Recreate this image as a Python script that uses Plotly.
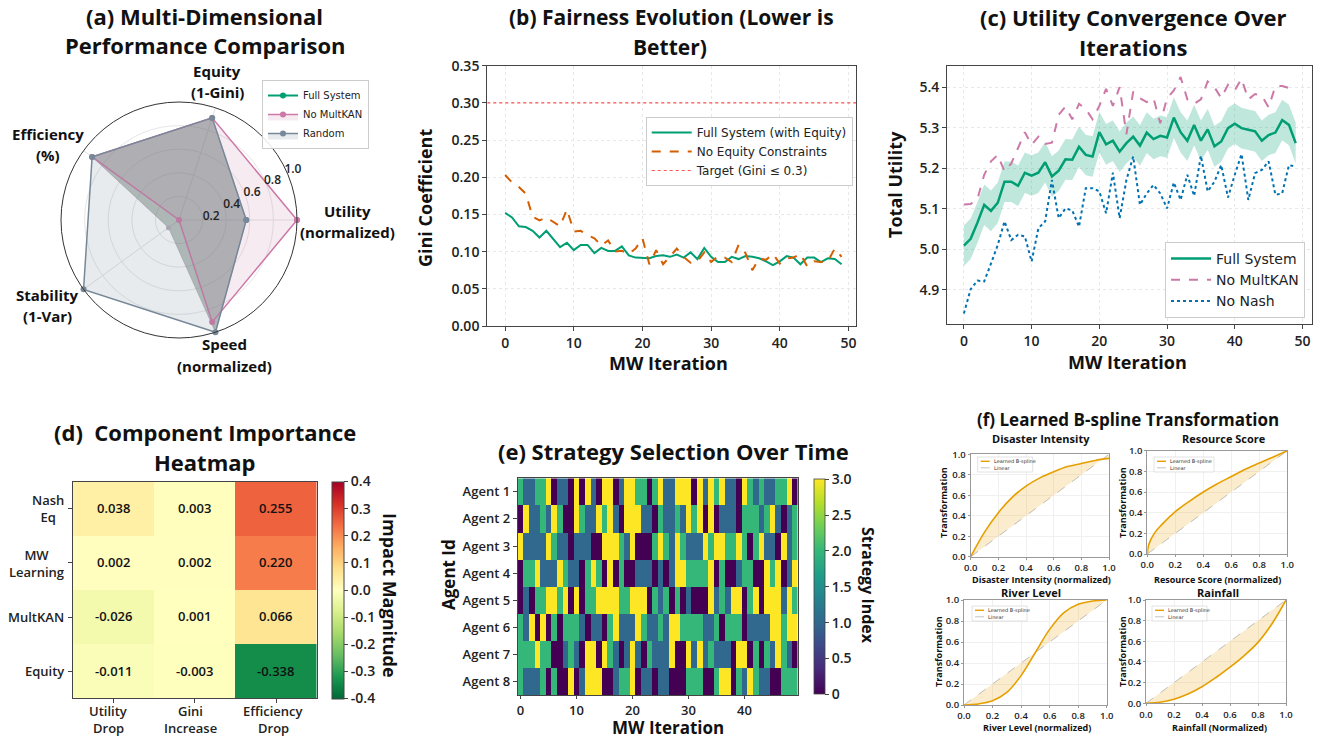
import plotly.graph_objects as go

W, H = 1324, 738
def px_x(v): return v / W
def px_y(v): return 1 - v / H

TF = "Open Sans"
LF = "DejaVu Sans"

# ---------------- data ----------------
# (a) radar
radar_labels = ["Utility (normalized)", "Equity (1-Gini)", "Efficiency (%)", "Stability (1-Var)", "Speed (normalized)"]
radar_full_system = [0.57, 0.91, 0.91, 0.11, 1.00]
radar_no_multkan = [1.00, 0.91, 0.91, 0.00, 0.91]
radar_random = [0.57, 0.91, 0.91, 1.00, 1.00]
radar_ticks = [0.2, 0.4, 0.6, 0.8, 1.0]

# (b) fairness
mw_iter = list(range(50))
gini_full = [0.152, 0.146, 0.134, 0.133, 0.128, 0.119, 0.128, 0.117, 0.106, 0.112,
             0.102, 0.109, 0.109, 0.098, 0.105, 0.101, 0.101, 0.107, 0.095, 0.092,
             0.091, 0.091, 0.094, 0.095, 0.093, 0.096, 0.092, 0.099, 0.090, 0.105,
             0.093, 0.086, 0.086, 0.093, 0.090, 0.094, 0.093, 0.091, 0.087, 0.082,
             0.087, 0.094, 0.092, 0.083, 0.092, 0.092, 0.086, 0.091, 0.090, 0.083]
gini_no_equity = [0.203, 0.193, 0.187, 0.178, 0.147, 0.142, 0.146, 0.140, 0.134, 0.157,
                  0.127, 0.128, 0.122, 0.118, 0.108, 0.115, 0.100, 0.101, 0.097, 0.104,
                  0.118, 0.083, 0.102, 0.083, 0.093, 0.104, 0.093, 0.085, 0.087, 0.099,
                  0.086, 0.094, 0.092, 0.086, 0.109, 0.098, 0.075, 0.091, 0.089, 0.097,
                  0.084, 0.091, 0.092, 0.097, 0.080, 0.087, 0.086, 0.087, 0.104, 0.093]
gini_target = 0.3
gini_xrange = [-2.6, 51.1]

# (c) utility
util_full = [5.009, 5.026, 5.066, 5.110, 5.095, 5.115, 5.167, 5.167, 5.157, 5.189,
             5.182, 5.189, 5.215, 5.180, 5.194, 5.222, 5.221, 5.253, 5.233, 5.229,
             5.289, 5.259, 5.268, 5.241, 5.262, 5.278, 5.256, 5.288, 5.272, 5.280,
             5.276, 5.325, 5.289, 5.268, 5.307, 5.268, 5.296, 5.254, 5.266, 5.299,
             5.310, 5.299, 5.295, 5.291, 5.268, 5.282, 5.288, 5.319, 5.307, 5.262]
util_band = 0.05
util_no_multkan = [5.111, 5.112, 5.124, 5.184, 5.217, 5.233, 5.192, 5.212, 5.250, 5.289,
                   5.258, 5.278, 5.260, 5.263, 5.332, 5.352, 5.321, 5.359, 5.346, 5.321,
                   5.354, 5.396, 5.354, 5.400, 5.284, 5.389, 5.373, 5.363, 5.373, 5.311,
                   5.373, 5.392, 5.425, 5.370, 5.359, 5.370, 5.414, 5.400, 5.373, 5.406,
                   5.392, 5.421, 5.370, 5.383, 5.379, 5.350, 5.403, 5.403, 5.398, 5.389]
util_no_nash = [4.842, 4.902, 4.923, 4.921, 4.965, 5.011, 5.069, 5.023, 5.036, 5.032,
                4.970, 5.052, 5.069, 5.171, 5.077, 5.101, 5.096, 5.056, 5.151, 5.151,
                5.143, 5.089, 5.189, 5.077, 5.171, 5.229, 5.110, 5.138, 5.159, 5.138,
                5.101, 5.165, 5.122, 5.184, 5.132, 5.231, 5.143, 5.167, 5.208, 5.128,
                5.184, 5.235, 5.122, 5.188, 5.196, 5.217, 5.135, 5.138, 5.208, 5.204]

# (d) component importance
components = ["Nash<br>Eq", "MW<br>Learning", "MultKAN", "Equity"]
impact_metrics = ["Utility<br>Drop", "Gini<br>Increase", "Efficiency<br>Drop"]
impact = [[0.038, 0.003, 0.255],
          [0.002, 0.002, 0.220],
          [-0.026, 0.001, 0.066],
          [-0.011, -0.003, -0.338]]
impact_ticks = [0.4, 0.3, 0.2, 0.1, 0.0, -0.1, -0.2, -0.3, -0.4]
impact_ticktext = ["0.4", "0.3", "0.2", "0.1", "0.0", "-0.1", "-0.2", "-0.3", "-0.4"]

# (e) strategy selection
agents = ["Agent 1", "Agent 2", "Agent 3", "Agent 4", "Agent 5", "Agent 6", "Agent 7", "Agent 8"]
strategy_agent1 = [2,1,1,2,2,3,0,1,1,0, 3,0,3,1,0,3,3,0,1,3, 3,2,2,0,2,3,1,1,3,3, 3,0,3,1,3,2,3,1,1,0, 3,2,1,2,1,1,2,2,3,0]
strategy_agent2 = [0,3,1,1,2,1,3,2,0,0, 3,2,1,1,3,2,3,1,0,3, 3,3,1,1,0,2,1,1,2,1, 3,2,3,0,3,0,1,1,1,0, 2,2,2,1,2,3,1,0,1,2]
strategy_agent3 = [3,1,1,1,1,3,2,1,1,0, 1,1,1,0,0,3,3,3,2,1, 3,0,0,0,2,3,2,1,3,2, 1,1,1,3,2,3,3,2,2,3, 2,0,2,3,1,1,0,3,1,2]
strategy_agent4 = [0,2,2,3,1,1,1,3,2,1, 1,0,2,3,2,0,3,0,2,0, 0,1,1,1,0,1,0,1,3,3, 2,2,2,2,3,0,2,0,0,1, 2,2,0,0,3,2,3,0,1,3]
strategy_agent5 = [0,1,0,2,2,3,3,2,3,0, 3,0,2,2,3,3,3,3,2,2, 3,3,3,0,2,1,2,0,2,0, 1,0,0,0,3,1,2,1,3,3, 0,2,3,0,3,3,3,1,3,2]
strategy_agent6 = [2,1,3,0,3,0,2,0,2,2, 2,1,0,1,1,0,2,3,1,1, 1,3,2,1,1,2,1,3,3,2, 2,2,2,1,1,2,0,2,2,2, 0,1,1,1,1,3,3,2,3,3]
strategy_agent7 = [2,2,2,3,2,2,0,0,1,2, 1,0,3,3,0,3,2,1,0,1, 3,1,0,2,1,1,1,3,0,0, 3,1,3,1,2,1,1,1,0,3, 3,0,2,0,2,1,3,2,1,0]
strategy_agent8 = [2,1,1,1,2,0,2,0,0,3, 0,1,3,3,3,0,0,1,2,2, 3,0,1,1,0,1,1,0,0,0, 2,2,2,0,0,2,3,3,0,2, 1,3,2,1,1,0,0,2,2,2]
strategy_ticks = [0, 0.5, 1.0, 1.5, 2.0, 2.5, 3.0]
strategy_ticktext = ["0", "0.5", "1.0", "1.5", "2.0", "2.5", "3.0"]
iter_ticks = [0, 10, 20, 30, 40]

# (f) B-spline transformations
spline_x = [0.0, 0.1, 0.2, 0.3, 0.4, 0.5, 0.6, 0.7, 0.8, 0.9, 1.0]
disaster_curve = [0.0, 0.24, 0.43, 0.58, 0.69, 0.77, 0.83, 0.88, 0.91, 0.94, 0.96]
resource_x = [0.0, 0.01, 0.05, 0.1, 0.2, 0.3, 0.4, 0.5, 0.6, 0.7, 0.8, 0.9, 1.0]
resource_curve = [0.0, 0.09, 0.20, 0.28, 0.41, 0.51, 0.60, 0.68, 0.75, 0.82, 0.88, 0.94, 1.0]
river_curve = [0.0, 0.01, 0.04, 0.12, 0.28, 0.50, 0.72, 0.88, 0.96, 0.99, 1.0]
rainfall_curve = [0.0, 0.01, 0.04, 0.09, 0.16, 0.25, 0.35, 0.46, 0.59, 0.77, 1.0]
linear_x = [0.0, 1.0]
linear_y = [0.0, 1.0]
unit_ticks = [0.0, 0.2, 0.4, 0.6, 0.8, 1.0]

# ---------------- colours ----------------
GREEN = "#009E73"
ORANGE = "#D55E00"
PINK = "#CC79A7"
BLUE = "#0072B2"
SLATE = "#778899"
GOLD = "#E69F00"

fig = go.Figure()

# ---------------- (a) radar ----------------
def closed(v):
    return list(v) + [v[0]]

theta = closed(radar_labels)
fig.add_trace(go.Scatterpolar(r=closed(radar_full_system), theta=theta, mode="lines+markers", fill="toself",
                              fillcolor="rgba(92,112,100,0.43)", line=dict(color="rgba(165,160,170,0.6)", width=1),
                              marker=dict(size=5, color="#b4acb6"), showlegend=False, subplot="polar"))
fig.add_trace(go.Scatterpolar(r=[None], theta=[radar_labels[0]], mode="lines+markers", name="Full System",
                              line=dict(color=GREEN, width=2), marker=dict(size=6, color=GREEN),
                              legend="legend", subplot="polar"))
fig.add_trace(go.Scatterpolar(r=closed(radar_no_multkan), theta=theta, mode="lines+markers", fill="toself",
                              fillcolor="rgba(204,121,167,0.15)", line=dict(color=PINK, width=1.5),
                              marker=dict(size=6, color=PINK), name="No MultKAN", legend="legend", subplot="polar"))
fig.add_trace(go.Scatterpolar(r=closed(radar_random), theta=theta, mode="lines+markers", fill="toself",
                              fillcolor="rgba(119,136,153,0.17)", line=dict(color=SLATE, width=1.5),
                              marker=dict(size=6, color=SLATE), name="Random", legend="legend", subplot="polar"))

# ---------------- (b) fairness ----------------
fig.add_trace(go.Scatter(x=mw_iter, y=gini_full, mode="lines", name="Full System (with Equity)",
                         line=dict(color=GREEN, width=2), xaxis="x", yaxis="y", legend="legend2"))
fig.add_trace(go.Scatter(x=mw_iter, y=gini_no_equity, mode="lines", name="No Equity Constraints",
                         line=dict(color=ORANGE, width=2, dash="dash"), xaxis="x", yaxis="y", legend="legend2"))
fig.add_trace(go.Scatter(x=gini_xrange, y=[gini_target, gini_target], mode="lines", name="Target (Gini ≤ 0.3)",
                         line=dict(color="rgba(255,40,40,0.8)", width=1.2, dash="dot"), xaxis="x", yaxis="y",
                         legend="legend2"))

# ---------------- (c) utility ----------------
util_upper = [v + util_band for v in util_full]
util_lower = [v - util_band for v in util_full]
fig.add_trace(go.Scatter(x=mw_iter, y=util_upper, mode="lines", line=dict(width=0, color="rgba(0,158,115,0.3)"),
                         showlegend=False, xaxis="x2", yaxis="y2", hoverinfo="skip"))
fig.add_trace(go.Scatter(x=mw_iter, y=util_lower, mode="lines", line=dict(width=0, color="rgba(0,158,115,0.3)"),
                         fill="tonexty", fillcolor="rgba(0,158,115,0.25)", showlegend=False,
                         xaxis="x2", yaxis="y2", hoverinfo="skip"))
fig.add_trace(go.Scatter(x=mw_iter, y=util_full, mode="lines", name="Full System",
                         line=dict(color=GREEN, width=2.5), xaxis="x2", yaxis="y2", legend="legend3"))
fig.add_trace(go.Scatter(x=mw_iter, y=util_no_multkan, mode="lines", name="No MultKAN",
                         line=dict(color=PINK, width=2, dash="dash"), xaxis="x2", yaxis="y2", legend="legend3"))
fig.add_trace(go.Scatter(x=mw_iter, y=util_no_nash, mode="lines", name="No Nash",
                         line=dict(color=BLUE, width=2, dash="dot"), xaxis="x2", yaxis="y2", legend="legend3"))

# ---------------- (d) heatmap ----------------
fig.add_trace(go.Heatmap(z=impact, x=impact_metrics, y=components, xaxis="x3", yaxis="y3",
                         colorscale="RdYlGn_r", zmin=-0.4, zmax=0.4, texttemplate="%{z:.3f}",
                         textfont=dict(family=TF, size=13, color="#111", weight=600),
                         colorbar=dict(x=px_x(331.7), xanchor="left", xpad=0, ypad=0,
                                       y=px_y(590), yanchor="middle", len=(698.3 - 481.7) / H, lenmode="fraction",
                                       thickness=11.6, outlinewidth=1, outlinecolor="#444",
                                       tickvals=impact_ticks, ticktext=impact_ticktext, ticks="outside", ticklen=4,
                                       tickfont=dict(family=TF, size=14, color="#222", weight=600))))

# ---------------- (e) strategy heatmap ----------------
strategy = [strategy_agent1, strategy_agent2, strategy_agent3, strategy_agent4,
            strategy_agent5, strategy_agent6, strategy_agent7, strategy_agent8]
fig.add_trace(go.Heatmap(z=strategy, x=mw_iter, y=agents, xaxis="x4", yaxis="y4", colorscale="Viridis",
                         zmin=0, zmax=3,
                         colorbar=dict(x=px_x(814.3), xanchor="left", xpad=0, ypad=0,
                                       y=px_y(586.8), yanchor="middle", len=(694.3 - 479.3) / H, lenmode="fraction",
                                       thickness=10.7, outlinewidth=0.8, outlinecolor="#444",
                                       tickvals=strategy_ticks, ticktext=strategy_ticktext, ticks="outside", ticklen=4,
                                       tickfont=dict(family=TF, size=14, color="#222", weight=600))))

# ---------------- (f) B-splines ----------------
spline_panels = [
    ("x5", "y5", spline_x, disaster_curve),
    ("x6", "y6", resource_x, resource_curve),
    ("x7", "y7", spline_x, river_curve),
    ("x8", "y8", spline_x, rainfall_curve),
]
for xa, ya, sx, sy in spline_panels:
    fig.add_trace(go.Scatter(x=list(sx) + list(sx)[::-1], y=list(sy) + list(sx)[::-1], fill="toself",
                             fillcolor="rgba(230,159,0,0.2)", line=dict(width=0), mode="lines",
                             showlegend=False, xaxis=xa, yaxis=ya, hoverinfo="skip"))
    fig.add_trace(go.Scatter(x=linear_x, y=linear_y, mode="lines",
                             line=dict(color="rgba(128,128,128,0.6)", width=0.8, dash="dash"),
                             name="Linear", showlegend=False, xaxis=xa, yaxis=ya))
    fig.add_trace(go.Scatter(x=sx, y=sy, mode="lines", line=dict(color=GOLD, width=1.6, shape="spline"),
                             name="Learned B-spline", showlegend=False, xaxis=xa, yaxis=ya))

# ---------------- layout ----------------
tick_font = dict(family=TF, size=14, color="#222", weight=600)

def frame_axis(domain, **kw):
    d = dict(domain=domain, showline=True, mirror=True, linecolor="#444", linewidth=1.2,
             ticks="outside", ticklen=4, tickcolor="#444", zeroline=False,
             showgrid=True, gridcolor="#e8e8e8", griddash="dot", gridwidth=1, tickfont=tick_font)
    d.update(kw)
    return d

small_font = dict(family=TF, size=9.5, color="#222", weight=600)

def small_axis(domain, anchor):
    return dict(domain=domain, anchor=anchor, range=[0, 1], tickvals=unit_ticks, tickformat=".1f",
                showline=True, mirror=True, linecolor="#999", linewidth=1, ticks="outside", ticklen=2,
                tickcolor="#999", zeroline=False, showgrid=True, gridcolor="#f0f0f0", gridwidth=1,
                tickfont=small_font)

def leg(x, y, size, family=LF, **kw):
    d = dict(x=px_x(x), y=px_y(y), xanchor="left", yanchor="top", bgcolor="rgba(255,255,255,0.85)",
             bordercolor="#cccccc", borderwidth=1, font=dict(family=family, size=size, color="#222"),
             tracegroupgap=0, traceorder="normal")
    d.update(kw)
    return d

layout = dict(
    width=W, height=H, autosize=False, margin=dict(l=0, r=0, t=0, b=0, pad=0, autoexpand=False),
    paper_bgcolor="white", plot_bgcolor="white", font=dict(family=TF, color="#222"),
    polar=dict(domain=dict(x=[px_x(61), px_x(297)], y=[px_y(338), px_y(102)]), bgcolor="white",
               angularaxis=dict(rotation=0, direction="counterclockwise", showticklabels=False, ticks="",
                                linecolor="#333", linewidth=1, gridcolor="#e2e2e2", gridwidth=0.8),
               radialaxis=dict(range=[0, 1], tickvals=radar_ticks, ticktext=["0.2", "0.4", "0.6", "0.8", "1.0"],
                               angle=30, tickangle=30, showline=False, ticks="", gridcolor="#e6e6e6",
                               tickfont=dict(family=TF, size=12, color="#222", weight=600))),
    xaxis=frame_axis([px_x(487.3), px_x(856)], anchor="y", range=gini_xrange, tickvals=[0, 10, 20, 30, 40, 50]),
    yaxis=frame_axis([px_y(326), px_y(65.7)], anchor="x", range=[0, 0.35], dtick=0.05, tickformat=".2f"),
    xaxis2=frame_axis([px_x(947.3), px_x(1312.3)], anchor="y2", range=[-2.45, 51.45], tickvals=[0, 10, 20, 30, 40, 50]),
    yaxis2=frame_axis([px_y(324), px_y(65.7)], anchor="x2", range=[4.816, 5.453],
                      tickvals=[4.9, 5.0, 5.1, 5.2, 5.3, 5.4], tickformat=".1f"),
    xaxis3=dict(domain=[px_x(72.7), px_x(316.7)], anchor="y3", type="category", showline=True, mirror=True,
                linecolor="#444", linewidth=1, ticks="outside", ticklen=4, showgrid=False, zeroline=False,
                showticklabels=False),
    yaxis3=dict(domain=[px_y(698.3), px_y(481.7)], anchor="x3", type="category", autorange="reversed",
                showline=True, mirror=True, linecolor="#444", linewidth=1, ticks="outside", ticklen=4,
                showticklabels=False, showgrid=False, zeroline=False),
    xaxis4=dict(domain=[px_x(517.7), px_x(797.7)], anchor="y4", range=[-0.5, 49.5], tickvals=iter_ticks,
                showline=True, mirror=True, linecolor="#444", linewidth=1, ticks="outside", ticklen=3,
                showgrid=False, zeroline=False, tickfont=dict(family=TF, size=13, color="#222", weight=600)),
    yaxis4=dict(domain=[px_y(695), px_y(478.3)], anchor="x4", type="category", autorange="reversed",
                showline=True, mirror=True, linecolor="#444", linewidth=1, ticks="outside", ticklen=4,
                showgrid=False, zeroline=False, tickfont=dict(family=TF, size=13, color="#222", weight=600)),
    xaxis5=small_axis([px_x(970.7), px_x(1109)], "y5"),
    yaxis5=small_axis([px_y(556.7), px_y(454.3)], "x5"),
    xaxis6=small_axis([px_x(1147.3), px_x(1287.3)], "y6"),
    yaxis6=small_axis([px_y(554), px_y(450.7)], "x6"),
    xaxis7=small_axis([px_x(964), px_x(1106.7)], "y7"),
    yaxis7=small_axis([px_y(705), px_y(600)], "x7"),
    xaxis8=small_axis([px_x(1146), px_x(1286)], "y8"),
    yaxis8=small_axis([px_y(703.3), px_y(600)], "x8"),
    legend=leg(262, 80, 10, itemwidth=30),
    legend2=leg(645.7, 117, 12, itemwidth=40),
    legend3=leg(1165, 242, 14, itemwidth=40),
)
fig.update_layout(**layout)

annotations = []
shapes = []
def text(x, y, s, size, angle=0, bold=True, xanchor="center", align="center", family=TF, color="#111", weight=None):
    annotations.append(dict(x=px_x(x), y=px_y(y), xref="paper", yref="paper", text=s, showarrow=False,
                            xanchor=xanchor, yanchor="middle", textangle=angle, align=align,
                            font=dict(family=family, size=size, color=color,
                                      weight=weight if weight else ("bold" if bold else "normal"))))

# titles
text(205, 16, "(a) Multi-Dimensional", 22)
text(205, 45, "Performance Comparison", 22)
text(671, 17, "(b) Fairness Evolution (Lower is", 21)
text(670, 47, "Better)", 21)
text(1133, 17, "(c) Utility Convergence Over", 22)
text(1133, 47, "Iterations", 22)
text(205, 432, "(d)  Component Importance", 22)
text(205, 462, "Heatmap", 22)
text(673, 451, "(e) Strategy Selection Over Time", 22)
text(1128, 419, "(f) Learned B-spline Transformation", 17)

# radar axis labels
text(217, 71, "Equity", 15)
text(217, 92, "(1-Gini)", 15)
text(48, 134, "Efficiency", 15)
text(48, 155, "(%)", 15)
text(347, 211, "Utility", 15)
text(347, 232, "(normalized)", 15)
text(47, 295, "Stability", 15)
text(47, 316, "(1-Var)", 15)
text(224, 344, "Speed", 15)
text(224, 366, "(normalized)", 15)

# axis titles
text(425, 198, "Gini Coefficient", 18, angle=-90)
text(668, 363, "MW Iteration", 18)
text(895, 185, "Total Utility", 18, angle=-90)
text(1127, 362, "MW Iteration", 18)
text(390, 595, "Impact Magnitude", 18, angle=90)
text(868, 585, "Strategy Index", 16, angle=90)
text(448, 575, "Agent Id", 17, angle=-90)
text(668, 727, "MW Iteration", 17)

# heatmap (d) row and column labels
row_y = [508.8, 563.0, 617.1, 671.2]
for lab, yy in zip(components, row_y):
    annotations.append(dict(x=px_x(66), y=px_y(yy), xref="paper", yref="paper", text=lab, showarrow=False,
                            xanchor="right", yanchor="middle", align="center",
                            font=dict(family=TF, size=13, color="#222", weight=600)))
col_x = [108, 190, 273]
for lab, xx in zip(impact_metrics, col_x):
    top, bottom = lab.split("<br>")
    text(xx, 711, top, 13, weight=600, color="#222")
    text(xx, 728, bottom, 13, weight=600, color="#222")

# (f) sub titles and axis titles
text(1041, 439, "Disaster Intensity", 11)
text(1224, 439, "Resource Score", 11)
text(1031, 592, "River Level", 11)
text(1218, 592, "Rainfall", 11)
text(1041, 579, "Disaster Intensity (normalized)", 9)
text(1217, 579, "Resource Score (normalized)", 9)
text(1037, 727, "River Level (normalized)", 9)
text(1219, 727, "Rainfall (Normalized)", 9)
text(943, 503, "Transformation", 9, angle=-90)
text(1122, 503, "Transformation", 9, angle=-90)
text(938, 652, "Transformation", 9, angle=-90)
text(1122, 652, "Transformation", 9, angle=-90)

# (f) mini legends (box, sample lines, labels)
def mini_legend(x0, y0, w=55, h=15):
    shapes.append(dict(type="rect", xref="paper", yref="paper", x0=px_x(x0), x1=px_x(x0 + w),
                       y0=px_y(y0 + h), y1=px_y(y0), line=dict(color="#d0d0d0", width=0.6),
                       fillcolor="rgba(255,255,255,0.85)", layer="above"))
    shapes.append(dict(type="line", xref="paper", yref="paper", x0=px_x(x0 + 3), x1=px_x(x0 + 12),
                       y0=px_y(y0 + 4.3), y1=px_y(y0 + 4.3), line=dict(color=GOLD, width=1.4), layer="above"))
    shapes.append(dict(type="line", xref="paper", yref="paper", x0=px_x(x0 + 3), x1=px_x(x0 + 12),
                       y0=px_y(y0 + 10.8), y1=px_y(y0 + 10.8), line=dict(color="#aaaaaa", width=0.7, dash="dash"),
                       layer="above"))
    for label, dy in (("Learned B-spline", 4.3), ("Linear", 10.8)):
        annotations.append(dict(x=px_x(x0 + 15), y=px_y(y0 + dy), xref="paper", yref="paper", text=label,
                                showarrow=False, xanchor="left", yanchor="middle",
                                font=dict(family=LF, size=5, color="#333"), borderpad=0))

mini_legend(977.7, 457)
mini_legend(1154, 457, w=60)
mini_legend(972, 606)
mini_legend(1152, 606)

fig.update_layout(annotations=annotations, shapes=shapes)
fig.write_html("out.html", config={"displayModeBar": False},
               post_script="document.body.style.margin='0';document.body.style.overflow='hidden';")
